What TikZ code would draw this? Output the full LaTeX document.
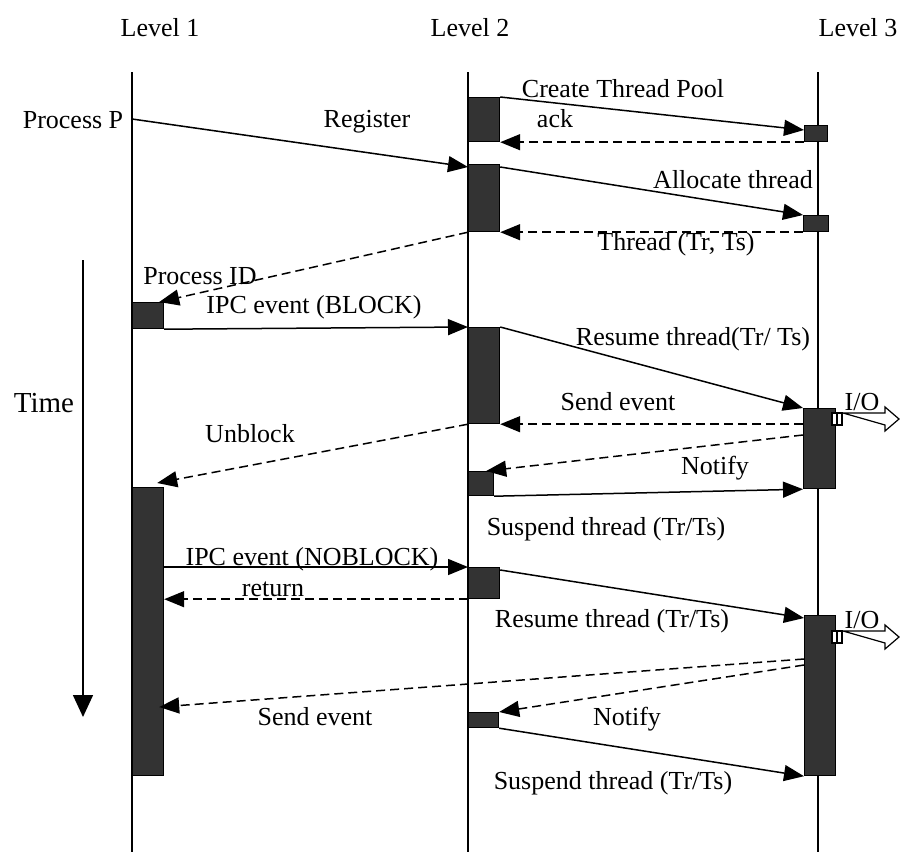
\documentclass[tikz,border=0pt]{standalone}
\usepackage{fontspec}
\setmainfont{Liberation Serif}
\usetikzlibrary{arrows.meta,positioning,calc}

\begin{document}
\begin{tikzpicture}[x=1pt, y=-1pt,
    >={Triangle[length=20pt,width=16pt]},
    life/.style={line width=2pt},
    act/.style={draw, line width=1.2pt, fill=black!80, inner sep=0pt, anchor=north west},
    msg/.style={->, line width=1.5pt},
    reply/.style={->, line width=1.5pt, dash pattern=on 9pt off 5pt},
    lbl/.style={font=\fontsize{26}{30}\selectfont, inner sep=0pt, anchor=base},
    io/.style={draw, line width=1.2pt, fill=white}]
    \useasboundingbox (0,0) rectangle (900,852);

    % Levels and their lifelines
    \node[lbl] (lv1) at (160,36) {Level 1};
    \node[lbl] (lv2) at (470,36) {Level 2};
    \node[lbl] (lv3) at (858,36) {Level 3};
    \draw[life] (132,72) -- (132,852);
    \draw[life] (468,72) -- (468,852);
    \draw[life] (818,72) -- (818,852);

    % Time axis
    \coordinate (t0) at (83,260);
    \coordinate (t1) at (83,717);
    \draw[->, line width=1.5pt, >={Triangle[length=22pt,width=20pt]}] (t0) -- (t1);
    \node[lbl, font=\fontsize{29}{32}\selectfont] (time) at (44,412) {Time};

    % Activation boxes, Level 1
    \node[act, minimum width=31pt, minimum height=26pt] (a1) at (132,302) {};
    \node[act, minimum width=31pt, minimum height=288pt] (a2) at (132,487) {};

    % Activation boxes, Level 2
    \node[act, minimum width=31pt, minimum height=44pt] (b1) at (468,97) {};
    \node[act, minimum width=31pt, minimum height=67pt] (b2) at (468,164) {};
    \node[act, minimum width=31pt, minimum height=96pt] (b3) at (468,327) {};
    \node[act, minimum width=25pt, minimum height=24pt] (b4) at (468,471) {};
    \node[act, minimum width=31pt, minimum height=31pt] (b5) at (468,567) {};
    \node[act, minimum width=30pt, minimum height=15pt] (b6) at (468,712) {};

    % Activation boxes, Level 3
    \node[act, minimum width=23pt, minimum height=16pt] (c1) at (804,125) {};
    \node[act, minimum width=25pt, minimum height=16pt] (c2) at (803,215) {};
    \node[act, minimum width=32pt, minimum height=80pt] (c3) at (803,408) {};
    \node[act, minimum width=31pt, minimum height=160pt] (c4) at (804,615) {};

    % Setup of process P
    \node[lbl] (procp) at (73,128) {Process P};
    \coordinate (pp) at (132,119);
    \draw[msg] (pp) -- ($(b2.north west)+(0,3)$);
    \node[lbl] at (367,127) {Register};
    \draw[msg] (b1.north east) -- ($(c1.north west)+(0,5)$);
    \node[lbl] at (623,97) {Create Thread Pool};
    \draw[reply] (c1.south west) -- (b1.south east);
    \node[lbl] at (555,127) {ack};
    \draw[msg] ($(b2.north east)+(0,3)$) -- (c2.north west);
    \node[lbl] at (733,188) {Allocate thread};
    \draw[reply] (c2.south west) -- (b2.south east);
    \node[lbl] at (676,250) {Thread (Tr, Ts)};
    \draw[reply] (b2.south west) -- ($(a1.north east)+(-5,0)$);
    \node[lbl] at (200,284) {Process ID};

    % Blocking event
    \draw[msg] (a1.south east) -- (b3.north west);
    \node[lbl] at (314,313) {IPC event (BLOCK)};
    \draw[msg] (b3.north east) -- (c3.north west);
    \node[lbl] at (693,345) {Resume thread(Tr/ Ts)};
    \draw[reply] (c3.west |- b3.south east) -- (b3.south east);
    \node[lbl] at (618,410) {Send event};
    \draw[reply] (b3.south west) -- ($(a2.north east)+(-7,-4)$);
    \node[lbl] at (250,442) {Unblock};
    \draw[reply] ($(c3.north west)+(0,27)$) -- ($(b4.north east)+(-8,0)$);
    \node[lbl] at (715,474) {Notify};
    \draw[msg] (b4.south east) -- (c3.south west);
    \node[lbl] at (606,535) {Suspend thread (Tr/Ts)};

    % Non blocking event
    \draw[msg] (a2.east |- b5.north west) -- (b5.north west);
    \node[lbl] at (312,565) {IPC event (NOBLOCK)};
    \draw[reply] (b5.south west) -- (a2.east |- b5.south west);
    \node[lbl] at (273,596) {return};
    \draw[msg] ($(b5.north east)+(0,3)$) -- ($(c4.north west)+(0,3)$);
    \node[lbl] at (612,627) {Resume thread (Tr/Ts)};
    \draw[reply] ($(c4.north west)+(0,44)$) -- ($(a2.north east)+(-5,220)$);
    \node[lbl] at (315,725) {Send event};
    \draw[reply] ($(c4.north west)+(0,50)$) -- (b6.north east);
    \node[lbl] at (627,725) {Notify};
    \draw[msg] (b6.south east) -- (c4.south west);
    \node[lbl] at (613,789) {Suspend thread (Tr/Ts)};

    % I/O out of Level 3
    \foreach \yy/\nm in {419/io1,637/io2} {
        \draw[io] (832,\yy-6) rectangle (842,\yy+6);
        \draw[line width=1.2pt] (837,\yy-6) -- (837,\yy+6);
        \draw[io] (843,\yy-6) -- (885,\yy-6) -- (885,\yy-12) -- (899,\yy) -- (885,\yy+12) -- (885,\yy+6) -- cycle;
        \node[lbl] (\nm) at (862,\yy-9) {I/O};
    }
\end{tikzpicture}
\end{document}
